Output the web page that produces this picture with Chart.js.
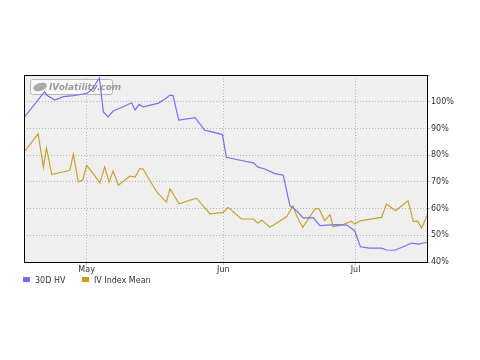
<!DOCTYPE html>
<html>
<head>
<meta charset="utf-8">
<script src="https://cdn.jsdelivr.net/npm/chart.js@4"></script>
<style>
  body { margin: 0; background: #fff; }
  #wrap { position: relative; width: 480px; height: 360px; }
  #legend { position: absolute; left: 23px; top: 276px; font: 8px "DejaVu Sans", sans-serif; color: #333; }
  #legend span.sw { display: inline-block; width: 7px; height: 5px; margin-right: 5px; vertical-align: 1px; }
  #legend span.item { margin-right: 14px; }
</style>
</head>
<body>
<div id="wrap">
  <canvas id="chart" width="480" height="360"></canvas>
  <div id="legend">
    <span class="item"><span class="sw" style="background:#6f6ff0"></span>30D HV</span>
    <span class="item"><span class="sw" style="background:#c99a1c"></span>IV Index Mean</span>
  </div>
</div>
<script>
// days counted from Apr 1 (May 1 = 30, Jun 1 = 61, Jul 1 = 91)
const monthTicks = [30, 61, 91];
const monthLabels = ['May', 'Jun', 'Jul'];

// 30D HV
const hvDays = [15.8, 20.5, 20.9, 22.8, 24.7, 27.0, 28.9, 30.0, 31.1, 32.9, 33.8, 34.9, 36.0, 38.3, 40.2, 41.0, 41.9, 42.8, 46.2, 47.8, 48.9, 49.6, 50.9, 54.6, 56.8, 58.0, 60.8, 61.7, 65.1, 67.8, 68.9, 70.4, 72.7, 74.6, 76.1, 77.6, 79.1, 81.4, 82.9, 86.7, 89.0, 90.8, 92.1, 94.2, 96.9, 98.0, 99.9, 102.2, 103.7, 105.2, 107.2];
const hvValues = [94.0, 103.8, 102.5, 100.6, 101.9, 102.3, 102.8, 103.1, 104.4, 108.8, 96.2, 94.3, 96.5, 98.1, 99.6, 96.9, 99.0, 98.1, 99.4, 101.0, 102.5, 102.3, 93.1, 94.0, 89.3, 88.9, 87.7, 79.2, 78.0, 77.1, 75.5, 74.8, 73.1, 72.5, 61.1, 59.2, 56.5, 56.5, 53.6, 54.0, 53.8, 51.7, 45.7, 45.2, 45.2, 44.5, 44.4, 46.0, 47.1, 46.7, 47.4];

// IV Index Mean
const ivDays = [15.8, 19.0, 20.2, 20.9, 22.1, 24.7, 26.2, 27.0, 28.1, 29.1, 30.0, 31.5, 33.0, 34.1, 35.1, 36.0, 37.2, 39.8, 41.0, 42.1, 42.8, 45.9, 48.1, 48.9, 51.0, 54.9, 58.0, 61.0, 62.1, 65.1, 67.8, 68.9, 69.7, 71.6, 75.4, 76.8, 77.6, 79.0, 81.8, 82.7, 84.0, 85.2, 85.9, 88.2, 90.1, 90.8, 92.2, 96.9, 98.0, 100.1, 102.9, 104.1, 105.1, 106.0, 107.2];
const ivValues = [81.1, 88.0, 75.5, 82.6, 72.8, 73.7, 74.3, 80.4, 70.0, 70.6, 76.2, 73.1, 69.6, 75.6, 69.9, 74.1, 68.7, 72.1, 71.8, 75.0, 74.8, 66.2, 62.4, 67.4, 61.8, 63.9, 58.0, 58.6, 60.5, 56.1, 56.1, 54.5, 55.7, 53.0, 57.0, 61.1, 57.4, 53.0, 59.9, 59.9, 55.5, 57.7, 53.2, 54.0, 55.3, 54.2, 55.5, 56.7, 61.7, 59.2, 62.9, 55.1, 55.3, 52.7, 57.4];

const toPoints = (xs, ys) => xs.map((x, i) => ({ x: x, y: ys[i] }));

// grey plot background, frame and watermark
const framePlugin = {
    id: 'frame',
    beforeDraw(chart) {
        const { ctx, chartArea: a } = chart;
        ctx.save();
        ctx.fillStyle = '#efefef';
        ctx.fillRect(a.left, a.top, a.right - a.left, a.bottom - a.top);
        ctx.restore();
    },
    beforeDatasetsDraw(chart) {
        const { ctx, chartArea: a } = chart;
        const x = a.left + 6, y = a.top + 4, w = 82, h = 15;
        ctx.save();
        ctx.fillStyle = 'rgba(255,255,255,0.6)';
        ctx.strokeStyle = '#b8b8b8';
        ctx.lineWidth = 1;
        ctx.beginPath();
        ctx.roundRect(x + 0.5, y + 0.5, w, h, 2);
        ctx.fill();
        ctx.stroke();
        ctx.fillStyle = '#aaa';
        ctx.beginPath();
        ctx.ellipse(x + 10, y + 8, 7, 4, -0.3, 0, Math.PI * 2);
        ctx.fill();
        ctx.fillStyle = '#9a9a9a';
        ctx.font = 'italic bold 9px "DejaVu Sans", sans-serif';
        ctx.textBaseline = 'middle';
        ctx.fillText('IVolatility.com', x + 19, y + 8.5);
        ctx.restore();
    },
    afterDraw(chart) {
        const { ctx, chartArea: a } = chart;
        ctx.save();
        ctx.strokeStyle = '#000';
        ctx.lineWidth = 1;
        ctx.strokeRect(Math.round(a.left) + 0.5, Math.round(a.top) + 0.5,
            Math.round(a.right - a.left), Math.round(a.bottom - a.top));
        ctx.restore();
    }
};

new Chart(document.getElementById('chart'), {
    type: 'line',
    data: {
        datasets: [
            {
                label: '30D HV',
                data: toPoints(hvDays, hvValues),
                borderColor: '#7373ea',
                borderWidth: 1.2,
                pointRadius: 0,
                tension: 0
            },
            {
                label: 'IV Index Mean',
                data: toPoints(ivDays, ivValues),
                borderColor: '#c9a232',
                borderWidth: 1.2,
                pointRadius: 0,
                tension: 0
            }
        ]
    },
    options: {
        responsive: false,
        animation: false,
        layout: { padding: { left: 24, right: 23, top: 75, bottom: 84 } },
        plugins: {
            legend: { display: false },
            tooltip: { enabled: false }
        },
        scales: {
            x: {
                type: 'linear',
                min: 15.8,
                max: 107.2,
                afterBuildTicks: (scale) => { scale.ticks = monthTicks.map(v => ({ value: v })); },
                afterFit: (scale) => { scale.height = 14; },
                ticks: {
                    callback: (v) => monthLabels[monthTicks.indexOf(v)],
                    color: '#333',
                    font: { family: 'DejaVu Sans', size: 8 },
                    padding: 0,
                    maxRotation: 0
                },
                grid: { color: '#b4b4b4', tickLength: 3 },
                border: { color: '#000', dash: [1, 2] }
            },
            y: {
                position: 'right',
                min: 40,
                max: 110,
                afterFit: (scale) => { scale.width = 30; },
                ticks: {
                    stepSize: 10,
                    callback: (v) => v === 110 ? '' : v + '%',
                    color: '#333',
                    font: { family: 'DejaVu Sans', size: 8 },
                    padding: 1
                },
                grid: { color: '#b4b4b4', tickLength: 3 },
                border: { color: '#000', dash: [1, 2] }
            }
        }
    },
    plugins: [framePlugin]
});
</script>
</body>
</html>
